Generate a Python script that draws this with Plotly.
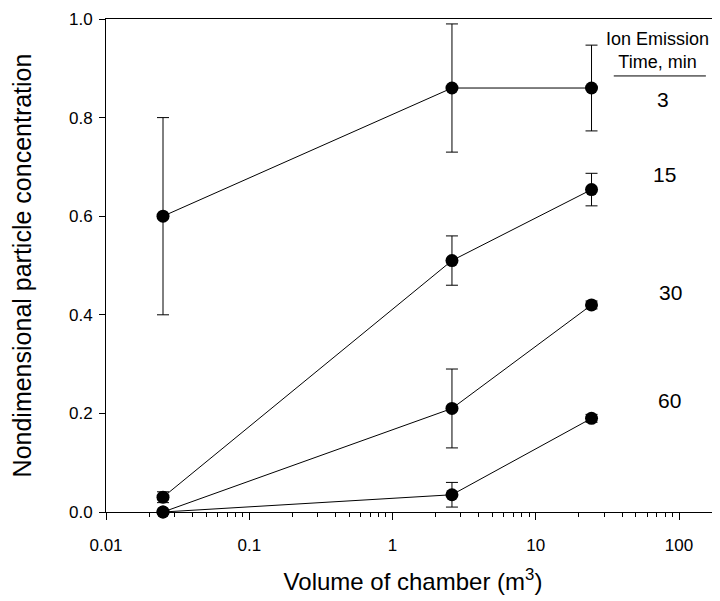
import plotly.graph_objects as go

# ---- data ----
volume = [0.025, 2.6, 24.5]          # chamber volume, m^3
emission_times = ["3", "15", "30", "60"]  # ion emission time, min
conc_3 = [0.60, 0.86, 0.86]
err_3 = [0.20, 0.13, 0.087]
conc_15 = [0.03, 0.51, 0.654]
err_15 = [0.011, 0.05, 0.033]
conc_30 = [0.0, 0.21, 0.42]
err_30 = [0.0, 0.08, 0.008]
conc_60 = [0.0, 0.035, 0.19]
err_60 = [0.0, 0.025, 0.008]
x_tick_vals = [0.01, 0.1, 1, 10, 100]
x_tick_text = ["0.01", "0.1", "1", "10", "100"]

series = [(conc_3, err_3), (conc_15, err_15), (conc_30, err_30), (conc_60, err_60)]

FONT = "Liberation Sans, Arial, sans-serif"
fig = go.Figure()
for (vals, errs), name in zip(series, emission_times):
    fig.add_trace(go.Scatter(
        x=volume, y=vals, name=name, mode="lines+markers",
        line=dict(color="black", width=1),
        marker=dict(color="black", size=13, symbol="circle"),
        error_y=dict(type="data", array=errs, visible=True, color="black",
                     thickness=1, width=6),
        cliponaxis=False, showlegend=False,
    ))

# series labels (positions in paper coordinates)
label_pos = [(0.907, 0.837), (0.909, 0.6845), (0.9186, 0.445), (0.917, 0.2268)]
for name, (px, py) in zip(emission_times, label_pos):
    fig.add_annotation(x=px, y=py, xref="paper", yref="paper", text=name,
                       xanchor="center", yanchor="middle", showarrow=False,
                       font=dict(size=21, color="black", family=FONT))
fig.add_annotation(x=0.899, y=0.936, xref="paper", yref="paper",
                   text="Ion Emission<br>Time, min", showarrow=False,
                   xanchor="center", yanchor="middle",
                   font=dict(size=18, color="black", family=FONT))
fig.add_shape(type="line", xref="paper", yref="paper", x0=0.827, x1=0.977,
              y0=0.8845, y1=0.8845, line=dict(color="black", width=1))

# the page body has an 8px default margin, so the figure is 8px smaller
fig.update_layout(
    width=712, height=593,
    margin=dict(l=98, r=0, t=11, b=89, autoexpand=False),
    paper_bgcolor="white", plot_bgcolor="white",
    font=dict(family=FONT, color="black", size=17),
    xaxis=dict(
        type="log", range=[-2, 2.286],
        tickmode="array", tickvals=x_tick_vals, ticktext=x_tick_text,
        ticks="outside", ticklen=7, tickwidth=1, tickcolor="black",
        minor=dict(ticks="outside", ticklen=4, tickwidth=1, tickcolor="black",
                   dtick="D1", showgrid=False),
        showline=True, linecolor="black", linewidth=1, mirror=True,
        showgrid=False, zeroline=False, ticklabelstandoff=11,
        tickfont=dict(size=17),
        title=dict(text="Volume of chamber (m<sup>3</sup>)", font=dict(size=24), standoff=18),
        automargin=False,
    ),
    yaxis=dict(
        range=[0, 1], dtick=0.2, tickformat=".1f",
        ticks="outside", ticklen=6, tickwidth=1, tickcolor="black",
        showline=True, linecolor="black", linewidth=1, mirror=False,
        showgrid=False, zeroline=False, ticklabelstandoff=3,
        tickfont=dict(size=17),
        title=dict(text="Nondimensional particle concentration", font=dict(size=25), standoff=33),
        automargin=False,
    ),
)

fig.write_html("out.html")
